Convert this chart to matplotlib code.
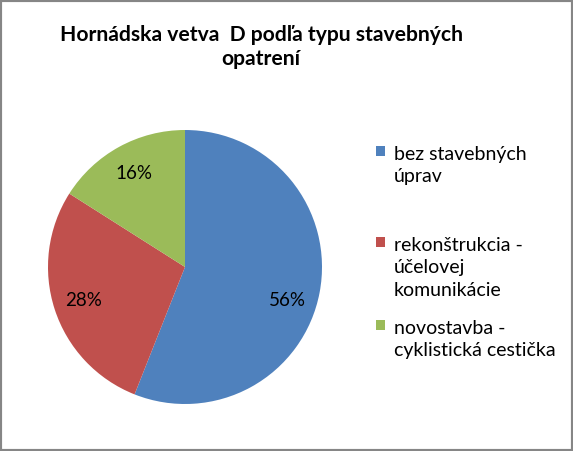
import matplotlib
matplotlib.use("Agg")
import matplotlib.pyplot as plt
from matplotlib.patches import Rectangle

# data
categories = ["bez stavebných\núprav",
              "rekonštrukcia -\núčelovej\nkomunikácie",
              "novostavba -\ncyklistická cestička"]
shares = [56, 28, 16]
colors = ["#4F81BD", "#C0504D", "#9BBB59"]
title = "Hornádska vetva  D podľa typu stavebných\nopatrení"

plt.rcParams['font.family'] = ['Lato', 'DejaVu Sans']

W, H = 573, 451
fig = plt.figure(figsize=(W / 100, H / 100), dpi=100)
fig.patch.set_facecolor("white")

# pie area: center ~ (185, 267), radius ~137 px
ax = fig.add_axes([48 / W, 1 - 404 / H, 274 / W, 274 / H])
wedges, texts, autotexts = ax.pie(
    shares, colors=colors, startangle=90, counterclock=False,
    autopct="%d%%", pctdistance=0.78,
    textprops=dict(fontsize=13.5, color="black"))
ax.set_aspect("equal")
ax.set_xlim(-1, 1)
ax.set_ylim(-1, 1)
# the big slice's label sits a bit lower in the reference
x0, y0 = autotexts[0].get_position()
autotexts[0].set_position((x0 - 0.02, y0 - 0.1))

fig.text(261 / W, 1 - 47 / H, title, ha="center", va="center",
         fontsize=15.2, fontweight="bold", linespacing=1.3)

# legend entries, one per block (uneven spacing in the reference)
tops = [146, 237, 320]
for w, lab, top in zip(wedges, categories, tops):
    leg = fig.legend([w], [lab], loc="upper left",
                     bbox_to_anchor=(376 / W, 1 - top / H),
                     frameon=False, fontsize=14, borderpad=0,
                     borderaxespad=0, handlelength=0.45, handleheight=0.45,
                     handletextpad=0.45, labelspacing=0)
    for t in leg.get_texts():
        t.set_linespacing(1.38)
    for col in leg._legend_handle_box.get_children():
        for hp in col.get_children():
            hp.align = "top"

# outer grey border
fig.patches.append(Rectangle((0, 0), 1, 1, transform=fig.transFigure,
                             fill=False, edgecolor="#868686", linewidth=3))

fig.savefig("out.png", dpi=100)
